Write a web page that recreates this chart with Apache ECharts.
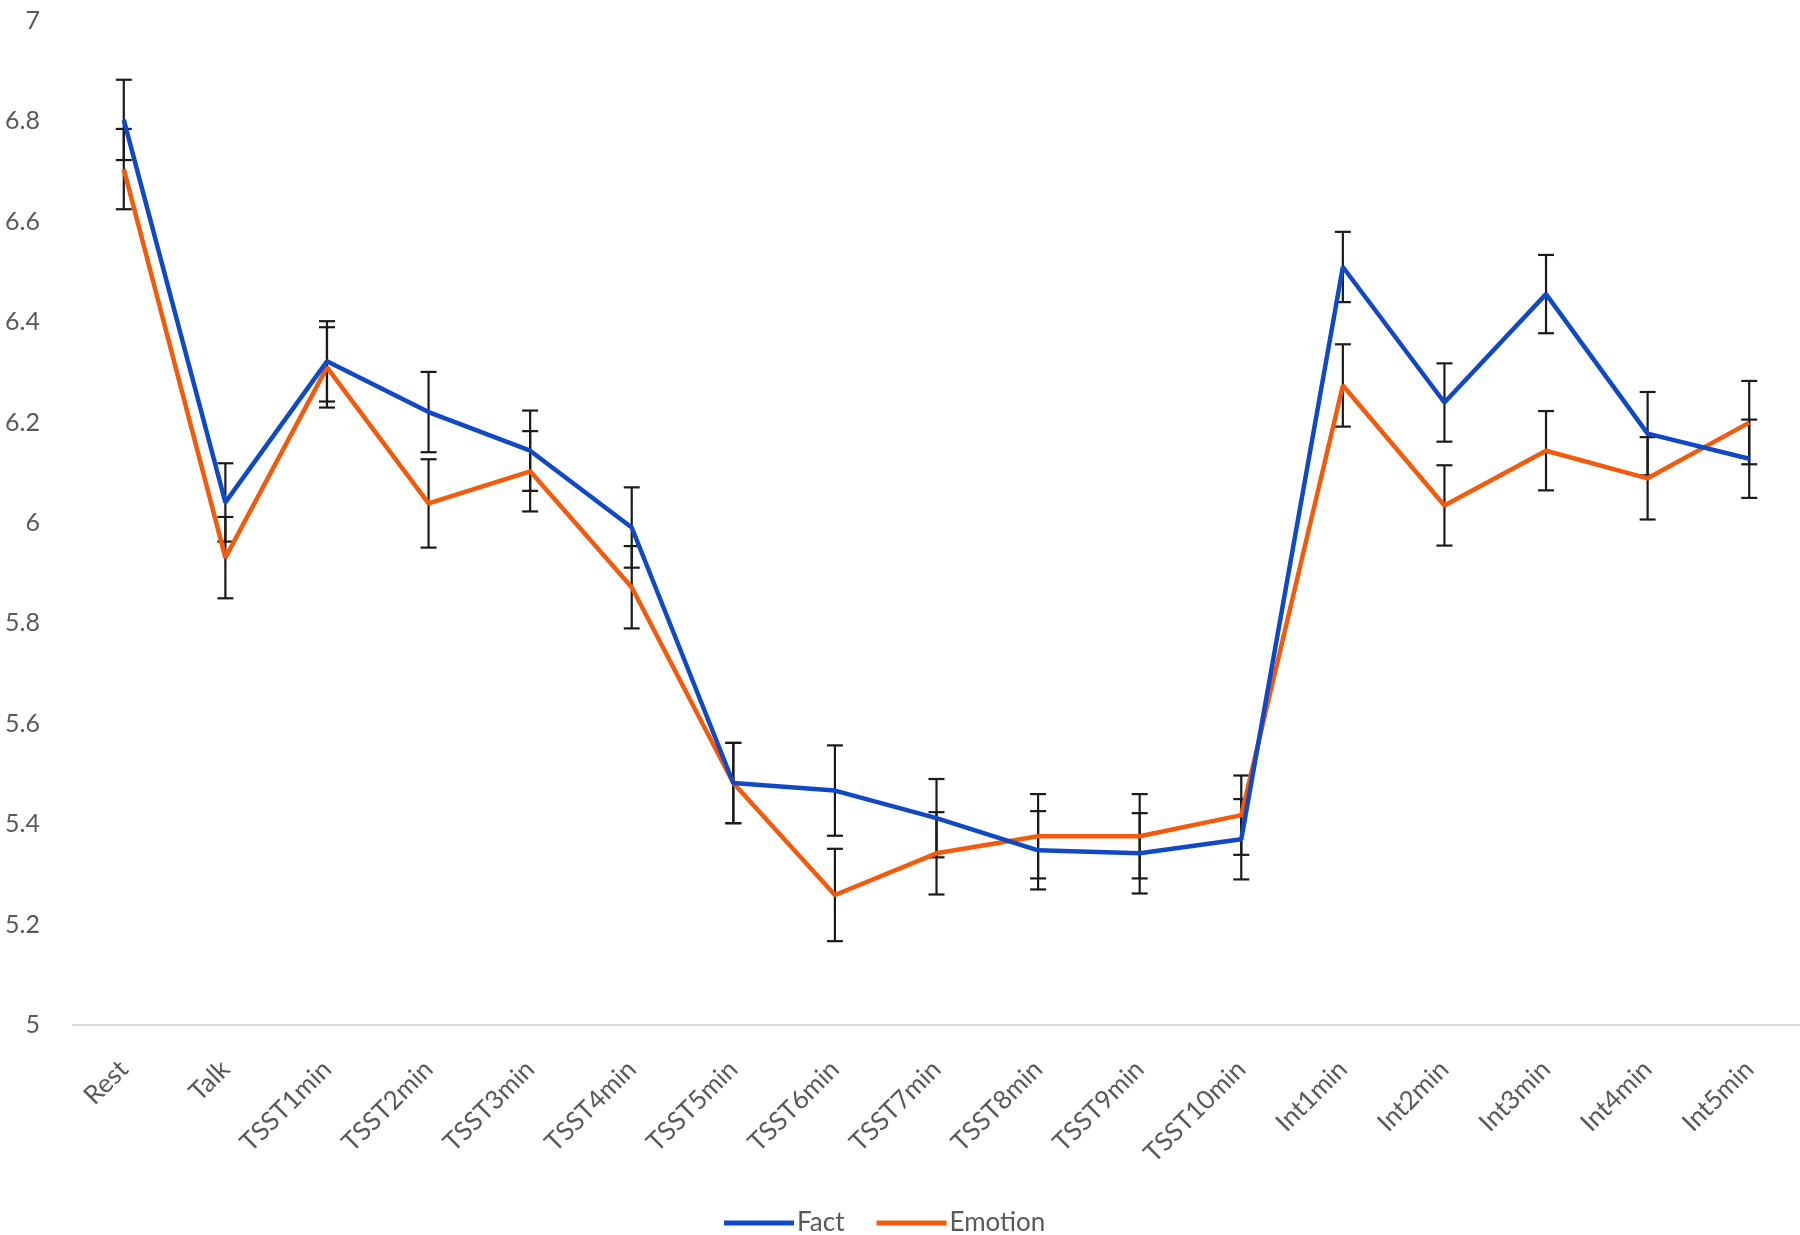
<!DOCTYPE html>
<html>
<head>
<meta charset="utf-8">
<script src="https://cdn.jsdelivr.net/npm/echarts@6/dist/echarts.min.js"></script>
<style>
html,body{margin:0;padding:0;background:#fff;}
#chart{width:1800px;height:1235px;}
</style>
</head>
<body>
<div id="chart"></div>
<script>
const categories = ['Rest','Talk','TSST1min','TSST2min','TSST3min','TSST4min','TSST5min','TSST6min','TSST7min','TSST8min','TSST9min','TSST10min','Int1min','Int2min','Int3min','Int4min','Int5min'];
const fact = [6.803, 6.041, 6.322, 6.221, 6.144, 5.991, 5.482, 5.467, 5.412, 5.348, 5.342, 5.370, 6.510, 6.240, 6.456, 6.178, 6.128];
const factErr = [0.080, 0.078, 0.080, 0.080, 0.080, 0.080, 0.080, 0.090, 0.078, 0.078, 0.080, 0.080, 0.070, 0.078, 0.078, 0.083, 0.078];
const emotion = [6.705, 5.931, 6.310, 6.039, 6.103, 5.872, 5.482, 5.259, 5.342, 5.376, 5.376, 5.418, 6.274, 6.035, 6.144, 6.089, 6.200];
const emotionErr = [0.080, 0.081, 0.080, 0.088, 0.080, 0.082, 0.080, 0.092, 0.082, 0.084, 0.084, 0.079, 0.082, 0.080, 0.079, 0.082, 0.083];
const yTicks = {min: 5, max: 7, interval: 0.2};

const FONT = 'Lato';
const LABEL_COLOR = '#595959';

function errData(vals, errs) {
  return vals.map((v, i) => [i, v - errs[i], v + errs[i]]);
}

function renderErr(params, api) {
  const i = api.value(0);
  const lo = api.coord([i, api.value(1)]);
  const hi = api.coord([i, api.value(2)]);
  const cw = 8;
  const style = {stroke: '#1a1a1a', lineWidth: 2.2};
  return {
    type: 'group',
    children: [
      {type: 'line', shape: {x1: lo[0], y1: lo[1], x2: hi[0], y2: hi[1]}, style: style},
      {type: 'line', shape: {x1: hi[0] - cw, y1: hi[1], x2: hi[0] + cw, y2: hi[1]}, style: style},
      {type: 'line', shape: {x1: lo[0] - cw, y1: lo[1], x2: lo[0] + cw, y2: lo[1]}, style: style}
    ]
  };
}

const chart = echarts.init(document.getElementById('chart'), null, {renderer: 'canvas'});
chart.setOption({
  backgroundColor: '#ffffff',
  animation: false,
  grid: {left: 73, top: 21, width: 1748, height: 1004, containLabel: false},
  legend: {
    data: [{name: 'Fact', icon: 'rect'}, {name: 'Emotion', icon: 'rect'}],
    left: 719,
    top: 1205,
    itemWidth: 70,
    itemHeight: 5,
    itemGap: 32,
    textStyle: {fontFamily: FONT, fontSize: 26, color: LABEL_COLOR, padding: [0, 0, 0, -2]}
  },
  xAxis: {
    type: 'category',
    data: categories,
    boundaryGap: true,
    axisLine: {show: true, lineStyle: {color: '#d9d9d9', width: 2}},
    axisTick: {show: false},
    axisLabel: {rotate: 45, interval: 0, margin: 40, fontFamily: FONT, fontSize: 26, color: LABEL_COLOR},
    splitLine: {show: false}
  },
  yAxis: {
    type: 'value',
    min: yTicks.min,
    max: yTicks.max,
    interval: yTicks.interval,
    axisLine: {show: false},
    axisTick: {show: false},
    splitLine: {show: false},
    axisLabel: {margin: 33, fontFamily: FONT, fontSize: 25, color: LABEL_COLOR}
  },
  series: [
    {
      name: 'FactErr', type: 'custom', z: 1,
      data: errData(fact, factErr),
      encode: {x: 0, y: [1, 2]},
      renderItem: renderErr
    },
    {
      name: 'EmotionErr', type: 'custom', z: 1,
      data: errData(emotion, emotionErr),
      encode: {x: 0, y: [1, 2]},
      renderItem: renderErr
    },
    {
      name: 'Fact', type: 'line', z: 3,
      data: fact,
      showSymbol: false,
      symbol: 'none',
      lineStyle: {color: '#1049c6', width: 4.5},
      itemStyle: {color: '#1049c6'}
    },
    {
      name: 'Emotion', type: 'line', z: 2,
      data: emotion,
      showSymbol: false,
      symbol: 'none',
      lineStyle: {color: '#f25a0c', width: 4.5},
      itemStyle: {color: '#f25a0c'}
    }
  ]
});
</script>
</body>
</html>
